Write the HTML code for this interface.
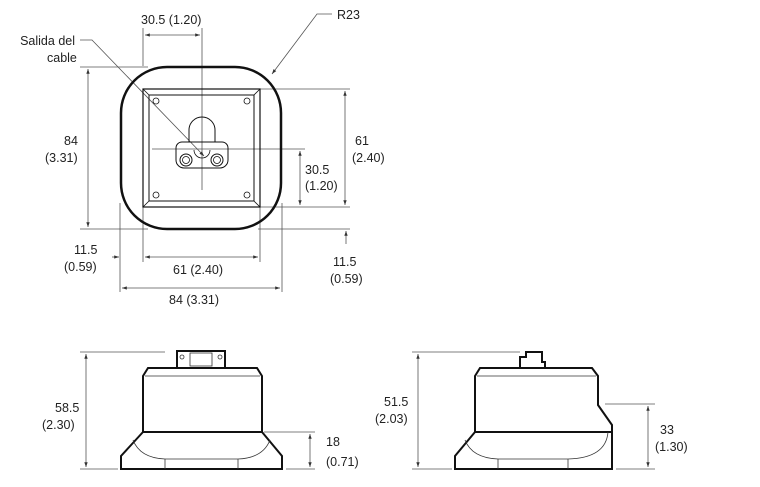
<!DOCTYPE html>
<html><head><style>body{margin:0;background:#fff}svg{display:block}text{font-family:"Liberation Sans",sans-serif;font-size:12.5px;fill:#222}</style></head><body>
<svg width="760" height="487" viewBox="0 0 760 487" xmlns="http://www.w3.org/2000/svg">
<defs><marker id="a" viewBox="0 0 10 10" refX="10" refY="5" markerWidth="8" markerHeight="6" orient="auto-start-reverse"><path d="M0,1.5L10,5L0,8.5z" fill="#333"/></marker></defs>
<g stroke="#555" stroke-width="0.8" fill="none">
<line x1="143" y1="28" x2="143" y2="66"/><line x1="202" y1="28" x2="202" y2="190"/>
<line x1="145" y1="35" x2="200" y2="35" marker-start="url(#a)" marker-end="url(#a)"/>
<polyline points="332,14 317,14 272,74" marker-end="url(#a)"/>
<polyline points="80,40 92,40 204,156" marker-end="url(#a)"/>
<line x1="80" y1="67" x2="148" y2="67"/><line x1="80" y1="229" x2="148" y2="229"/>
<line x1="88" y1="69" x2="88" y2="227" marker-start="url(#a)" marker-end="url(#a)"/>
<line x1="260" y1="89" x2="350" y2="89"/><line x1="260" y1="207" x2="350" y2="207"/>
<line x1="345" y1="91" x2="345" y2="205" marker-start="url(#a)" marker-end="url(#a)"/>
<line x1="152" y1="149" x2="305" y2="149"/>
<line x1="300" y1="151" x2="300" y2="205" marker-start="url(#a)" marker-end="url(#a)"/>
<line x1="258" y1="229" x2="350" y2="229"/>
<line x1="346" y1="244" x2="346" y2="231" marker-end="url(#a)"/>
<line x1="112" y1="257" x2="119" y2="257" marker-end="url(#a)"/>
<line x1="120" y1="203" x2="120" y2="292"/><line x1="282" y1="203" x2="282" y2="292"/>
<line x1="143" y1="207" x2="143" y2="262"/><line x1="260" y1="207" x2="260" y2="262"/>
<line x1="145" y1="257" x2="258" y2="257" marker-start="url(#a)" marker-end="url(#a)"/>
<line x1="122" y1="288" x2="280" y2="288" marker-start="url(#a)" marker-end="url(#a)"/>
<line x1="80" y1="352" x2="165" y2="352"/><line x1="80" y1="469" x2="118" y2="469"/>
<line x1="86" y1="354" x2="86" y2="467" marker-start="url(#a)" marker-end="url(#a)"/>
<line x1="264" y1="432" x2="315" y2="432"/><line x1="286" y1="469" x2="315" y2="469"/>
<line x1="310" y1="434" x2="310" y2="467" marker-start="url(#a)" marker-end="url(#a)"/>
<line x1="412" y1="352" x2="520" y2="352"/><line x1="412" y1="469" x2="452" y2="469"/>
<line x1="418" y1="354" x2="418" y2="467" marker-start="url(#a)" marker-end="url(#a)"/>
<line x1="605" y1="404" x2="655" y2="404"/><line x1="616" y1="469" x2="655" y2="469"/>
<line x1="648" y1="406" x2="648" y2="467" marker-start="url(#a)" marker-end="url(#a)"/>
</g>
<g stroke="#111" fill="none">
<rect x="121" y="67" width="160" height="162" rx="46" stroke-width="2.5"/>
<rect x="143" y="89" width="117" height="118" stroke-width="1.2"/>
<rect x="149" y="95" width="105" height="106" stroke-width="1"/>
<path d="M143,89L149,95M260,89L254,95M143,207L149,201M260,207L254,201" stroke-width="0.8"/>
<g stroke-width="0.8"><circle cx="156" cy="101" r="3"/><circle cx="247" cy="101" r="3"/><circle cx="156" cy="195" r="3"/><circle cx="247" cy="195" r="3"/></g>
<path d="M189,142V130a13,13 0 0 1 26,0V142" stroke-width="1"/>
<path d="M182,142H222a6,6 0 0 1 6,6V160a8,8 0 0 1-8,8H184a8,8 0 0 1-8-8V148a6,6 0 0 1 6-6z" stroke-width="1"/>
<path d="M194,150a8,8 0 0 0 16,0" stroke-width="0.8"/>
<circle cx="186" cy="160" r="6" stroke-width="1"/><circle cx="186" cy="160" r="3.5" stroke-width="0.8"/>
<circle cx="217" cy="160" r="6" stroke-width="1"/><circle cx="217" cy="160" r="3.5" stroke-width="0.8"/>
</g>
<g stroke="#111" fill="none" stroke-width="2">
<rect x="177" y="351" width="48" height="17"/>
<path d="M143,432V376L148,368H257L262,376V432Z"/>
<path d="M143,432L121,456V469H282V456L262,432"/>
</g>
<g stroke="#333" fill="none" stroke-width="0.8">
<line x1="145" y1="376" x2="260" y2="376"/>
<rect x="190" y="353" width="22" height="13"/>
<circle cx="182" cy="357" r="2"/><circle cx="220" cy="357" r="2"/>
<path d="M133,440Q140,458 165,459H238Q263,458 270,440"/>
<line x1="165" y1="459" x2="165" y2="469"/><line x1="238" y1="459" x2="238" y2="469"/>
</g>
<g stroke="#111" fill="none" stroke-width="2">
<path d="M520,368V357H526V352H542V362H545V368"/>
<path d="M475,432V376L480,368H592L598,376V405L612,425V432Z"/>
<path d="M475,432L455,456V469H612V432"/>
</g>
<g stroke="#333" fill="none" stroke-width="0.8">
<line x1="477" y1="376" x2="596" y2="376"/>
<path d="M465,440Q472,458 498,459H568Q606,458 608,432"/>
<line x1="498" y1="459" x2="498" y2="469"/><line x1="568" y1="459" x2="568" y2="469"/>
</g>
<text x="141" y="24">30.5 (1.20)</text>
<text x="337" y="19">R23</text>
<text x="75" y="45" text-anchor="end">Salida del</text><text x="47" y="62">cable</text>
<text x="64" y="145">84</text><text x="45" y="162">(3.31)</text>
<text x="355" y="145">61</text><text x="352" y="162">(2.40)</text>
<text x="305" y="174">30.5</text><text x="305" y="190">(1.20)</text>
<text x="74" y="254">11.5</text><text x="64" y="271">(0.59)</text>
<text x="333" y="266">11.5</text><text x="330" y="283">(0.59)</text>
<text x="173" y="274">61 (2.40)</text>
<text x="169" y="304">84 (3.31)</text>
<text x="55" y="412">58.5</text><text x="42" y="429">(2.30)</text>
<text x="326" y="446">18</text><text x="326" y="466">(0.71)</text>
<text x="384" y="406">51.5</text><text x="375" y="423">(2.03)</text>
<text x="660" y="434">33</text><text x="655" y="451">(1.30)</text>
</svg>
</body></html>
